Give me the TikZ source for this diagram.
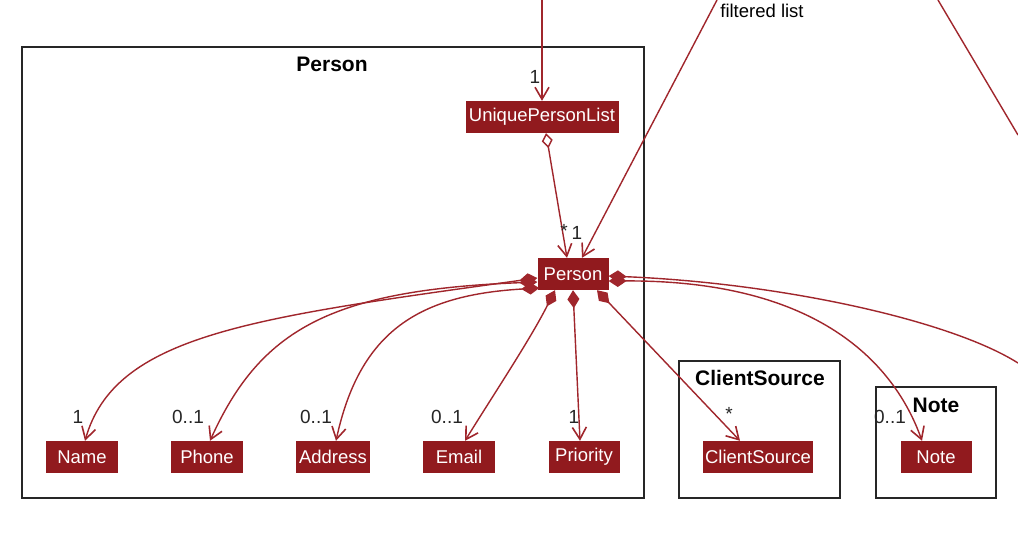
\documentclass[tikz,border=0pt]{standalone}
\usepackage{fontspec}
\setmainfont{Liberation Sans}
\usetikzlibrary{arrows.meta,calc}
\definecolor{nodefill}{RGB}{145,26,30}
\definecolor{edgecol}{RGB}{160,38,44}
\begin{document}
\begin{tikzpicture}[x=1pt,y=-1pt,
 cls/.style={fill=nodefill,text=white,inner sep=0pt,minimum height=32pt,font=\fontsize{18.5}{21}\selectfont},
 pkg/.style={draw=black!85,line width=1.8pt},
 pkgtitle/.style={font=\bfseries\fontsize{21}{24}\selectfont,inner sep=0pt},
 mult/.style={font=\fontsize{19}{22}\selectfont,text=black!85,inner sep=0pt},
 conn/.style={draw=edgecol,line width=1.4pt},
 barb/.tip={Straight Barb[length=12pt,width=14pt,line width=1.6pt]},
 nav/.style={conn,-barb},
 comp/.style={conn,{Diamond[length=18pt,width=12pt]}-barb},
 compend/.style={conn,{Diamond[length=18pt,width=12pt]}-},
 agg/.style={conn,{Diamond[open,length=15pt,width=11pt,fill=white]}-barb},
]
\useasboundingbox (0,0) rectangle (1018,550);
\fill[white] (0,0) rectangle (1018,550);

% packages
\draw[pkg] (22,47) rectangle (644,498);
\node[pkgtitle] (tPerson) at (332,64) {Person};
\draw[pkg] (679,361) rectangle (840,498);
\node[pkgtitle] (tClient) at (760,378) {ClientSource};
\draw[pkg] (876,387) rectangle (996,498);
\node[pkgtitle] (tNote) at (936,405) {Note};

% classes
\node[cls,minimum width=153pt] (U) at (542,117) {UniquePersonList};
\node[cls,minimum width=71pt] (P) at (573,274) {Person};
\node[cls,minimum width=72pt] (Name) at (82,457) {Name};
\node[cls,minimum width=72pt] (Phone) at (207,457) {Phone};
\node[cls,minimum width=74pt] (Addr) at (333,457) {Address};
\node[cls,minimum width=72pt] (Email) at (459,457) {Email};
\node[cls,minimum width=71pt] (Prio) at (584,457) {Priority};
\node[cls,minimum width=110pt] (CS) at (758,457) {ClientSource};
\node[cls,minimum width=71pt] (Note) at (936,457) {Note};

% free ends
\coordinate (topA) at (542,0);
\coordinate (topB) at (717,0);
\coordinate (topC) at (938,0);
\coordinate (rightC) at (1018,135);
\coordinate (rightD) at (1018,363);

% top connectors
\draw[nav] (topA) -- (U.north);
\draw[nav] (topB) -- ([xshift=9pt]P.north);
\draw[conn] (topC) -- (rightC);
\node[font=\fontsize{18.5}{21}\selectfont,inner sep=0pt] (fl) at (762,11) {filtered list};
\node[mult] (mU) at (535,77) {1};

% aggregation
\draw[agg] ([xshift=4pt]U.south) -- ([xshift=-6pt]P.north);
\node[mult] (mP1) at (564,231) {*};
\node[mult] (mP2) at (577,233) {1};

% compositions
\draw[comp] ([yshift=-4pt]P.west) .. controls (250,318) and (115,335) .. ([xshift=3pt]Name.north);
\draw[comp] ([yshift=-8pt]P.west) .. controls (330,290) and (260,330) .. ([xshift=3pt]Phone.north);
\draw[comp] ([xshift=2pt,yshift=-14pt]P.west) .. controls (420,295) and (360,330) .. ([xshift=3pt]Addr.north);
\draw[comp] ([xshift=-18pt]P.south) .. controls (530,340) and (490,400) .. ([xshift=6pt]Email.north);
\draw[comp] (P.south) -- ([xshift=-4pt]Prio.north);
\draw[comp] ([xshift=24pt]P.south) -- ([xshift=-18pt]CS.north);
\draw[comp] ([yshift=-7pt]P.east) .. controls (820,280) and (895,365) .. ([xshift=-14pt]Note.north);
\draw[compend] ([yshift=-2pt]P.east) .. controls (780,283) and (950,320) .. (rightD);

% multiplicities
\node[mult] (mName) at (78,417) {1};
\node[mult] (mPhone) at (188,417) {0..1};
\node[mult] (mAddr) at (316,417) {0..1};
\node[mult] (mEmail) at (447,417) {0..1};
\node[mult] (mPrio) at (574,417) {1};
\node[mult] (mCS) at (729,414) {*};
\node[mult] (mNote) at (890,417) {0..1};
\end{tikzpicture}
\end{document}
